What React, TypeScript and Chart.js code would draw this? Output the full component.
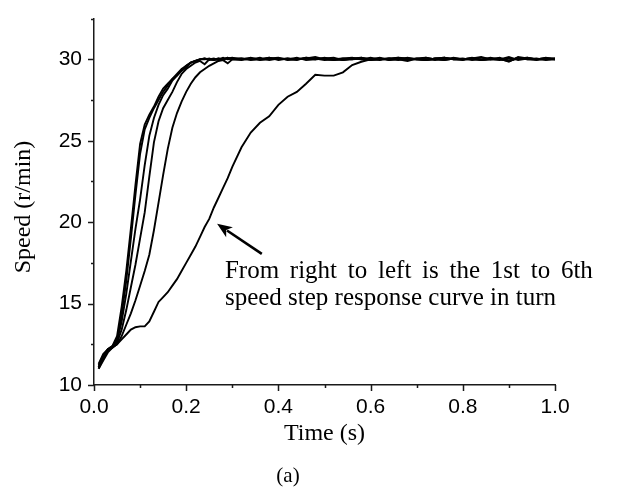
import React, { useEffect, useRef } from 'react';
import { Chart, registerables } from 'chart.js';

Chart.register(...registerables);

// Time samples (s)
const TIME = [
  0.01, 0.02, 0.03, 0.04, 0.05, 0.06, 0.07, 0.08, 0.09, 0.1,
  0.11, 0.12, 0.13, 0.14, 0.15, 0.16, 0.17, 0.18, 0.19, 0.2,
  0.21, 0.22, 0.23, 0.24, 0.25, 0.26, 0.27, 0.28, 0.29, 0.3,
  0.32, 0.34, 0.36, 0.38, 0.4, 0.42, 0.44, 0.46, 0.48, 0.5,
  0.52, 0.54, 0.56, 0.58, 0.6, 0.62, 0.64, 0.66, 0.68, 0.7,
  0.72, 0.74, 0.76, 0.78, 0.8, 0.82, 0.84, 0.86, 0.88, 0.9,
  0.92, 0.94, 0.96, 0.98, 1.0,
];

// Speed (r/min), 1st (slowest) to 6th (fastest) step response
const SPEED_1ST = [
  11.1, 11.8, 12.2, 12.3, 12.5, 12.8, 13.1, 13.4, 13.55, 13.6,
  13.6, 13.9, 14.5, 15.1, 15.4, 15.7, 16.1, 16.5, 17.0, 17.5,
  18.0, 18.5, 19.1, 19.7, 20.2, 20.9, 21.5, 22.1, 22.7, 23.4,
  24.6, 25.5, 26.1, 26.5, 27.2, 27.7, 28.0, 28.5, 29.05, 29.0,
  29.0, 29.2, 29.65, 29.85, 30.0, 30.05, 29.95, 30.0, 30.1, 30.0,
  29.95, 30.05, 30.1, 30.0, 29.95, 30.05, 30.15, 30.0, 30.05, 29.9,
  30.1, 30.0, 30.05, 29.95, 30.0,
];
const SPEED_2ND = [
  11.0, 11.5, 12.0, 12.3, 12.5, 13.0, 13.7, 14.4, 15.2, 16.1,
  17.0, 18.0, 19.5, 21.2, 22.9, 24.5, 25.8, 26.7, 27.4, 28.0,
  28.5, 28.9, 29.2, 29.4, 29.6, 29.75, 29.9, 29.95, 29.75, 30.0,
  30.05, 29.95, 30.0, 30.1, 30.0, 30.05, 29.95, 30.1, 30.0, 30.05,
  29.95, 30.0, 30.05, 30.1, 29.95, 30.0, 30.05, 30.0, 29.9, 30.05,
  30.1, 30.0, 29.95, 30.05, 30.0, 30.1, 29.95, 30.0, 30.05, 29.85,
  30.15, 30.05, 30.0, 30.1, 30.0,
];
const SPEED_3RD = [
  11.1, 11.7, 12.1, 12.3, 12.6, 13.4, 14.6, 16.0, 17.4, 19.0,
  20.6, 22.8, 24.9, 26.2, 27.0, 27.5, 28.0, 28.6, 29.1, 29.4,
  29.6, 29.8, 29.9, 29.7, 30.0, 30.05, 29.95, 30.0, 30.1, 30.0,
  29.95, 30.05, 30.0, 30.05, 30.1, 29.95, 30.0, 30.05, 30.15, 30.0,
  29.95, 30.05, 30.0, 30.1, 30.0, 29.95, 30.05, 30.1, 30.0, 30.0,
  29.95, 30.05, 30.0, 30.1, 30.0, 30.05, 29.95, 30.05, 30.0, 29.9,
  30.1, 30.0, 29.95, 30.05, 30.0,
];
const SPEED_4TH = [
  11.3, 11.9, 12.2, 12.4, 12.7, 13.9, 15.6, 17.6, 19.6, 21.4,
  23.5, 25.3, 26.4, 27.2, 27.8, 28.2, 28.7, 29.0, 29.3, 29.5,
  29.8, 29.9, 30.0, 30.05, 29.95, 30.0, 30.05, 30.0, 30.1, 30.0,
  30.0, 30.1, 29.95, 30.0, 30.05, 30.0, 30.1, 29.95, 30.0, 30.05,
  30.1, 29.95, 30.0, 30.05, 30.0, 30.1, 29.95, 30.05, 30.0, 30.05,
  30.0, 29.95, 30.1, 30.0, 30.05, 29.95, 30.0, 30.1, 30.0, 30.15,
  29.95, 30.05, 30.0, 30.05, 30.05,
];
const SPEED_5TH = [
  11.2, 11.8, 12.1, 12.3, 12.8, 14.3, 16.4, 19.0, 21.7, 24.2,
  25.7, 26.4, 27.0, 27.5, 28.0, 28.4, 28.8, 29.1, 29.4, 29.6,
  29.8, 29.9, 30.0, 30.0, 30.05, 29.95, 30.0, 30.1, 30.0, 30.05,
  30.05, 30.0, 30.1, 29.95, 30.05, 30.0, 30.0, 30.1, 30.05, 29.95,
  30.0, 30.05, 30.1, 30.0, 29.95, 30.05, 30.0, 30.1, 30.05, 30.0,
  29.95, 30.05, 30.1, 30.0, 30.0, 30.05, 29.95, 30.0, 30.1, 29.9,
  30.05, 30.1, 30.0, 30.0, 30.05,
];
const SPEED_6TH = [
  11.0, 11.6, 12.2, 12.4, 13.0, 14.8, 17.0, 19.6, 22.3, 24.8,
  26.0, 26.6, 27.1, 27.7, 28.2, 28.5, 28.8, 29.0, 29.3, 29.6,
  29.8, 29.9, 30.0, 30.05, 30.0, 29.95, 30.05, 30.0, 30.05, 30.1,
  30.0, 30.05, 30.0, 30.1, 29.95, 30.05, 30.0, 30.05, 30.0, 30.1,
  30.0, 29.95, 30.05, 30.0, 30.1, 30.0, 30.05, 29.95, 30.05, 30.0,
  30.1, 30.0, 29.95, 30.05, 30.0, 30.05, 30.1, 30.0, 29.95, 30.05,
  30.0, 30.1, 30.0, 30.05, 30.0,
];

const SERIES = [SPEED_1ST, SPEED_2ND, SPEED_3RD, SPEED_4TH, SPEED_5TH, SPEED_6TH];

const X_LABEL = 'Time (s)';
const Y_LABEL = 'Speed (r/min)';
const CAPTION = '(a)';
const NOTE_LINE_1 = 'From right to left is the 1st to 6th';
const NOTE_LINE_2 = 'speed step response curve in turn';

const INK = '#000000';
const AXIS = '#1a1a1a';
const SANS = '"Liberation Sans", Arial, sans-serif';
const SERIF = '"Liberation Serif", "Times New Roman", serif';

const decorPlugin = {
  id: 'decor',
  afterDraw(chart: any) {
    const ctx: CanvasRenderingContext2D = chart.ctx;
    const xs = chart.scales.x;
    const ys = chart.scales.y;
    const area = chart.chartArea;
    ctx.save();
    // tick marks (major 6px, minor 3px, outward)
    ctx.strokeStyle = AXIS;
    ctx.lineWidth = 1.5;
    ctx.beginPath();
    xs.ticks.forEach((t: any, i: number) => {
      const px = Math.round(xs.getPixelForValue(t.value)) + 0.5;
      const len = i % 2 === 0 ? 6 : 3;
      ctx.moveTo(px, area.bottom);
      ctx.lineTo(px, area.bottom + len);
    });
    ys.ticks.forEach((t: any, i: number) => {
      const py = Math.round(ys.getPixelForValue(t.value)) + 0.5;
      const len = i % 2 === 0 ? 6 : 3;
      ctx.moveTo(area.left, py);
      ctx.lineTo(area.left - len, py);
    });
    ctx.stroke();

    // axis titles
    ctx.fillStyle = INK;
    ctx.font = '24px ' + SERIF;
    ctx.textAlign = 'center';
    ctx.textBaseline = 'middle';
    ctx.fillText(X_LABEL, (area.left + area.right) / 2, 434);
    ctx.save();
    ctx.translate(24, 207);
    ctx.rotate(-Math.PI / 2);
    ctx.fillText(Y_LABEL, 0, 0);
    ctx.restore();

    // caption
    ctx.font = '21px ' + SERIF;
    ctx.fillText(CAPTION, 288, 476);

    // annotation text
    ctx.font = '25px ' + SERIF;
    ctx.textAlign = 'left';
    ctx.textBaseline = 'alphabetic';
    const tx = xs.getPixelForValue(0.284);
    (ctx as any).wordSpacing = '4.5px';
    ctx.fillText(NOTE_LINE_1, tx, ys.getPixelForValue(16.55));
    (ctx as any).wordSpacing = '0px';
    ctx.fillText(NOTE_LINE_2, tx, ys.getPixelForValue(14.94));

    // arrow
    const tipX = xs.getPixelForValue(0.267);
    const tipY = ys.getPixelForValue(19.9);
    const tailX = xs.getPixelForValue(0.364);
    const tailY = ys.getPixelForValue(18.05);
    const ang = Math.atan2(tipY - tailY, tipX - tailX);
    const headLen = 15;
    const headHalf = 6;
    const baseX = tipX - headLen * Math.cos(ang);
    const baseY = tipY - headLen * Math.sin(ang);
    ctx.strokeStyle = INK;
    ctx.lineWidth = 2.6;
    ctx.beginPath();
    ctx.moveTo(tailX, tailY);
    ctx.lineTo(baseX + 3 * Math.cos(ang), baseY + 3 * Math.sin(ang));
    ctx.stroke();
    ctx.beginPath();
    ctx.moveTo(tipX, tipY);
    ctx.lineTo(baseX + headHalf * Math.sin(ang), baseY - headHalf * Math.cos(ang));
    ctx.lineTo(baseX + 4 * Math.cos(ang), baseY + 4 * Math.sin(ang));
    ctx.lineTo(baseX - headHalf * Math.sin(ang), baseY + headHalf * Math.cos(ang));
    ctx.closePath();
    ctx.fillStyle = INK;
    ctx.fill();
    ctx.restore();
  },
};

export default function App() {
  const canvasRef = useRef<HTMLCanvasElement | null>(null);

  useEffect(() => {
    if (!canvasRef.current) return;
    const datasets = SERIES.map((vals, k) => ({
      label: `step ${k + 1}`,
      data: TIME.map((t, i) => ({ x: t, y: vals[i] })),
      borderColor: INK,
      borderWidth: 1.9,
      pointRadius: 0,
      tension: 0,
      fill: false,
    }));
    const chart = new Chart(canvasRef.current, {
      type: 'line',
      data: { datasets },
      options: {
        animation: false,
        responsive: false,
        events: [],
        layout: { padding: { left: 0, top: 7, right: 77, bottom: 0 } },
        plugins: { legend: { display: false }, tooltip: { enabled: false } },
        scales: {
          x: {
            type: 'linear',
            min: 0,
            max: 1,
            afterFit: (s: any) => { s.height = 106; },
            border: { display: true, color: AXIS, width: 1.5 },
            grid: { display: true, drawOnChartArea: false, drawTicks: true, tickLength: 6, color: 'transparent' },
            ticks: {
              stepSize: 0.1,
              autoSkip: false,
              maxRotation: 0,
              padding: 4,
              color: INK,
              font: { family: SANS, size: 21 },
              callback: (v: any, i: number) => (i % 2 === 0 ? Number(v).toFixed(1) : ''),
            },
          },
          y: {
            type: 'linear',
            min: 10,
            max: 32.5,
            afterFit: (s: any) => { s.width = 94; },
            border: { display: true, color: AXIS, width: 1.5 },
            grid: { display: true, drawOnChartArea: false, drawTicks: true, tickLength: 6, color: 'transparent' },
            ticks: {
              stepSize: 2.5,
              autoSkip: false,
              padding: 6,
              color: INK,
              font: { family: SANS, size: 21 },
              callback: (v: any, i: number) => (i % 2 === 0 ? String(Math.round(Number(v))) : ''),
            },
          },
        },
      },
      plugins: [decorPlugin],
    } as any);
    return () => chart.destroy();
  }, []);

  return (
    <div style={{ position: 'absolute', left: 0, top: 0, width: 632, height: 491, background: '#fff' }}>
      <canvas ref={canvasRef} width={632} height={491} style={{ display: 'block' }} />
    </div>
  );
}
